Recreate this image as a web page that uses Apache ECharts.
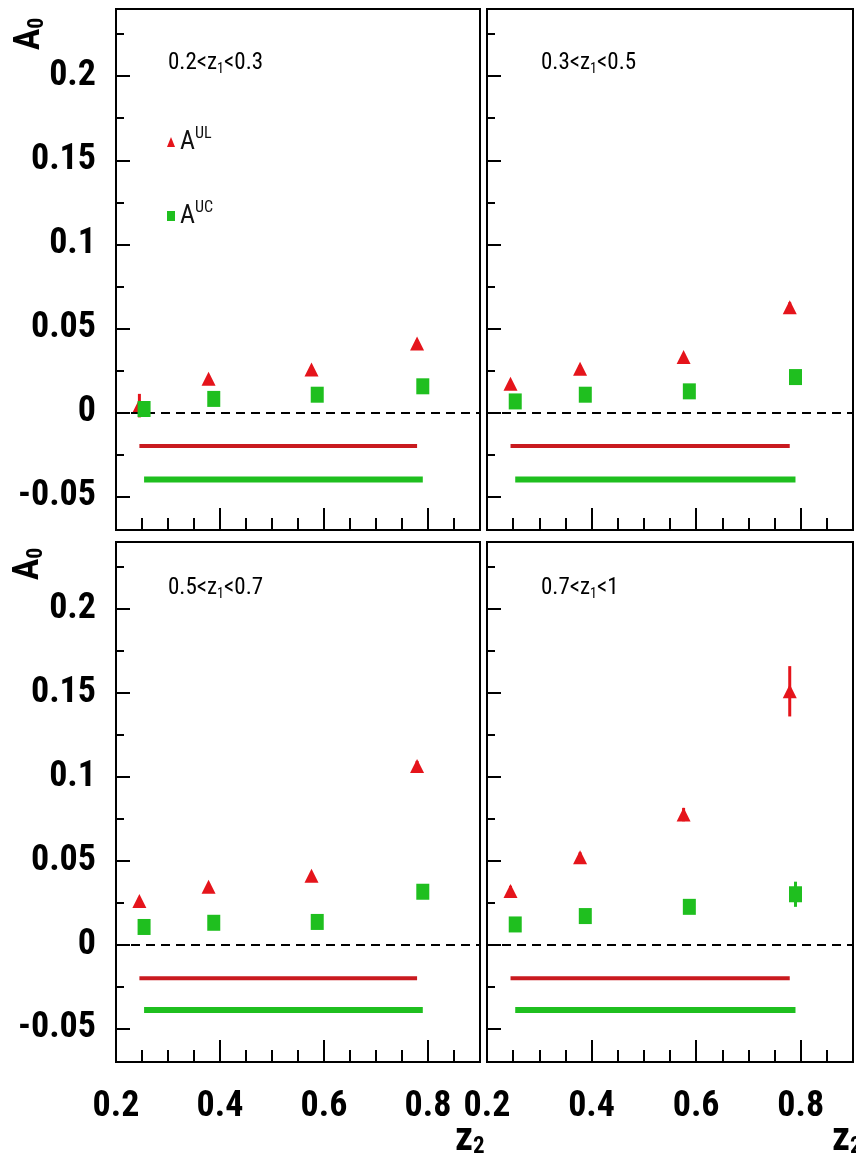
<!DOCTYPE html>
<html><head><meta charset="utf-8">
<script src="https://cdn.jsdelivr.net/npm/echarts@6/dist/echarts.min.js"></script>
<style>html,body{margin:0;padding:0;background:#fff}#c{width:856px;height:1169px}</style>
</head><body><div id="c"></div>
<script>
// ---- data ----
const panelLo = ['0.2', '0.3', '0.5', '0.7'];
const panelHi = ['0.3', '0.5', '0.7', '1'];
const xUL = [0.245, 0.378, 0.576, 0.779];
const xUC = [0.254, 0.388, 0.587, 0.790];
const ulP1 = [0.004, 0.020, 0.0255, 0.041];
const ucP1 = [0.002, 0.008, 0.0105, 0.0155];
const ulP2 = [0.017, 0.026, 0.033, 0.0625];
const ucP2 = [0.0065, 0.0105, 0.0125, 0.021];
const ulP3 = [0.026, 0.0345, 0.041, 0.1065];
const ucP3 = [0.0105, 0.013, 0.0135, 0.0315];
const ulP4 = [0.032, 0.052, 0.0775, 0.151];
const ucP4 = [0.012, 0.017, 0.0225, 0.030];
const ulErrP1 = [0.007, 0.002, 0.002, 0.002];
const ucErrP1 = [0.002, 0.002, 0.002, 0.002];
const ulErrP2 = [0.002, 0.002, 0.002, 0.003];
const ucErrP2 = [0.002, 0.002, 0.002, 0.002];
const ulErrP3 = [0.002, 0.002, 0.002, 0.003];
const ucErrP3 = [0.002, 0.002, 0.002, 0.003];
const ulErrP4 = [0.003, 0.003, 0.004, 0.015];
const ucErrP4 = [0.002, 0.002, 0.003, 0.0075];
const sysUL = [-0.020, -0.020, -0.020, -0.020];
const sysUC = [-0.040, -0.040, -0.039, -0.039];
const yTickVals = [-0.05, 0, 0.05, 0.1, 0.15, 0.2];
const yMinorVals = [-0.025, 0.025, 0.075, 0.125, 0.175, 0.225];
const xTickVals = [0.2, 0.4, 0.6, 0.8];
const xMinorVals = [0.25, 0.3, 0.35, 0.45, 0.5, 0.55, 0.65, 0.7, 0.75, 0.85];
const yMin = -0.07, yMax = 0.24, xMin = 0.2, xMax = 0.9;

const UL = [ulP1, ulP2, ulP3, ulP4];
const UC = [ucP1, ucP2, ucP3, ucP4];
const ULE = [ulErrP1, ulErrP2, ulErrP3, ulErrP4];
const UCE = [ucErrP1, ucErrP2, ucErrP3, ucErrP4];

// ---- styling ----
const FF = "'Roboto Condensed','Open Sans Condensed','Liberation Sans',sans-serif";
const RED = '#e5141b', REDLINE = '#c91a1f', GREEN = '#1fbf1f';
const grids = [
  {left: 116, top: 9, width: 364, height: 521},
  {left: 487, top: 9, width: 366, height: 521},
  {left: 116, top: 542, width: 364, height: 520},
  {left: 487, top: 542, width: 366, height: 520}
];

const xAxes = [], yAxes = [], series = [];
grids.forEach((g, i) => {
  g.show = true; g.borderColor = '#000'; g.borderWidth = 2; g.backgroundColor = '#fff';
  const showX = i >= 2, showY = (i % 2) === 0;
  xAxes.push({
    type: 'value', gridIndex: i, min: xMin, max: xMax, position: 'bottom',
    axisLine: {show: false, onZero: false}, splitLine: {show: false},
    axisTick: {show: true, inside: true, length: 22, customValues: xTickVals, lineStyle: {color: '#000', width: 2}},
    axisLabel: {show: showX, customValues: xTickVals, margin: 27, color: '#000',
      fontFamily: FF, fontSize: 36, fontWeight: 'bold', formatter: v => String(+v.toFixed(2))}
  });
  xAxes.push({
    type: 'value', gridIndex: i, min: xMin, max: xMax, position: 'bottom',
    axisLine: {show: false, onZero: false}, splitLine: {show: false}, axisLabel: {show: false},
    axisTick: {show: true, inside: true, length: 12, customValues: xMinorVals, lineStyle: {color: '#000', width: 2}}
  });
  yAxes.push({
    type: 'value', gridIndex: i, min: yMin, max: yMax, position: 'left',
    axisLine: {show: false, onZero: false}, splitLine: {show: false},
    axisTick: {show: true, inside: true, length: 14, customValues: yTickVals, lineStyle: {color: '#000', width: 2}},
    axisLabel: {show: showY, customValues: yTickVals, margin: 20, color: '#000',
      fontFamily: FF, fontSize: 36, fontWeight: 'bold', formatter: v => String(+v.toFixed(3))}
  });
  yAxes.push({
    type: 'value', gridIndex: i, min: yMin, max: yMax, position: 'left',
    axisLine: {show: false, onZero: false}, splitLine: {show: false}, axisLabel: {show: false},
    axisTick: {show: true, inside: true, length: 8, customValues: yMinorVals, lineStyle: {color: '#000', width: 2}}
  });
  const xa = 2 * i, ya = 2 * i;
  series.push({
    type: 'line', xAxisIndex: xa, yAxisIndex: ya, symbol: 'none', silent: true, z: 2,
    data: [[xUL[0], sysUL[i]], [xUL[xUL.length - 1], sysUL[i]]],
    lineStyle: {color: REDLINE, width: 4},
    markLine: {silent: true, symbol: 'none', label: {show: false},
      lineStyle: {color: '#000', type: [9, 6], width: 2}, data: [{yAxis: 0}]}
  });
  series.push({
    type: 'line', xAxisIndex: xa, yAxisIndex: ya, symbol: 'none', silent: true, z: 2,
    data: [[xUC[0], sysUC[i]], [xUC[xUC.length - 1], sysUC[i]]],
    lineStyle: {color: GREEN, width: 6}
  });
  const errSeries = (xs, ys, es, color) => ({
    type: 'custom', xAxisIndex: xa, yAxisIndex: ya, silent: true, z: 3,
    data: xs.map((x, k) => [x, ys[k] - es[k], ys[k] + es[k]]),
    renderItem: (params, api) => {
      const p1 = api.coord([api.value(0), api.value(1)]);
      const p2 = api.coord([api.value(0), api.value(2)]);
      return {type: 'line', shape: {x1: p1[0], y1: p1[1], x2: p2[0], y2: p2[1]},
        style: {stroke: color, lineWidth: 3}};
    }
  });
  series.push(errSeries(xUL, UL[i], ULE[i], RED));
  series.push({
    name: 'UL', type: 'scatter', xAxisIndex: xa, yAxisIndex: ya, z: 4,
    symbol: 'triangle', symbolSize: [14, 14], itemStyle: {color: RED, opacity: 1},
    data: xUL.map((x, k) => [x, UL[i][k]])
  });
  series.push(errSeries(xUC, UC[i], UCE[i], GREEN));
  series.push({
    name: 'UC', type: 'scatter', xAxisIndex: xa, yAxisIndex: ya, z: 5,
    symbol: 'rect', symbolSize: [13, 16], itemStyle: {color: GREEN, opacity: 1},
    data: xUC.map((x, k) => [x, UC[i][k]])
  });
});

const labelRich = {
  t: {fontFamily: FF, fontSize: 23, color: '#111', lineHeight: 26},
  s: {fontFamily: FF, fontSize: 14, color: '#111', lineHeight: 14, verticalAlign: 'bottom'}
};
const labelPos = [[168, 52], [541, 52], [168, 577], [541, 577]];
const graphics = [];
labelPos.forEach((p, i) => {
  graphics.push({type: 'text', left: p[0], top: p[1], z: 10,
    style: {text: '{t|' + panelLo[i] + '<z}{s|1}{t|<' + panelHi[i] + '}', rich: labelRich}});
});
const aRich = {
  a: {fontFamily: FF, fontSize: 36, fontWeight: 'bold', color: '#000', lineHeight: 36},
  s: {fontFamily: FF, fontSize: 22, fontWeight: 'bold', color: '#000', lineHeight: 20, verticalAlign: 'bottom'}
};
[[30, 34], [29, 564]].forEach(p => {
  graphics.push({type: 'text', x: p[0], y: p[1], rotation: Math.PI / 2, z: 10,
    style: {text: '{a|A}{s|0}', rich: aRich, align: 'center', verticalAlign: 'middle'}});
});
const zRich = {
  a: {fontFamily: FF, fontSize: 40, fontWeight: 'bold', color: '#000', lineHeight: 38},
  s: {fontFamily: FF, fontSize: 23, fontWeight: 'bold', color: '#000', lineHeight: 20, verticalAlign: 'bottom'}
};
[[455, 1120], [832, 1120]].forEach(p => {
  graphics.push({type: 'text', left: p[0], top: p[1], z: 10,
    style: {text: '{a|z}{s|2}', rich: zRich}});
});

const chart = echarts.init(document.getElementById('c'), null, {renderer: 'canvas'});
chart.setOption({
  animation: false,
  backgroundColor: '#fff',
  grid: grids,
  xAxis: xAxes,
  yAxis: yAxes,
  legend: {
    data: [{name: 'UL', icon: 'triangle'}, {name: 'UC', icon: 'rect'}],
    orient: 'vertical', left: 162, top: 121, itemWidth: 8, itemHeight: 10, itemGap: 45,
    selectedMode: false,
    formatter: n => '{a|A}{s|' + n + '}',
    textStyle: {rich: {
      a: {fontFamily: FF, fontSize: 26, color: '#111', lineHeight: 32},
      s: {fontFamily: FF, fontSize: 16, color: '#111', lineHeight: 18, verticalAlign: 'top'}
    }}
  },
  graphic: graphics,
  series: series
});
</script></body></html>
